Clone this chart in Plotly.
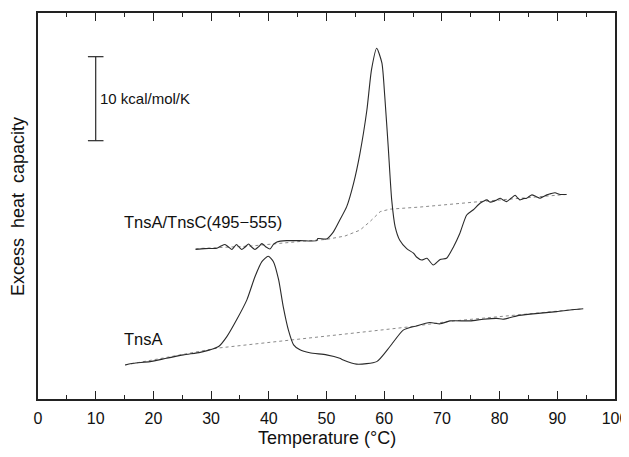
import plotly.graph_objects as go

# TnsA/TnsC(495-555) scan, temperature in deg C, Cp in kcal/mol/K (offset)
complex_temp = [27.3, 28.9, 31.0, 31.7, 32.4, 33.0, 33.6, 34.0, 34.4, 34.9, 35.3, 35.9,
                36.5, 37.0, 37.6, 38.2, 38.8, 39.5, 40.2, 40.8, 41.4, 43.1, 45.4, 48.3,
                48.5, 50.0, 51.2, 52.3, 53.5, 54.7, 55.8, 57.0, 57.8, 58.7, 59.6, 60.1,
                60.7, 61.3, 61.9, 62.7, 63.9, 65.1, 65.6, 66.5, 67.4, 68.5, 69.7, 70.8,
                72.0, 73.1, 74.3, 75.4, 76.6, 77.2, 77.8, 78.3, 78.9, 79.5, 80.1, 80.6,
                81.2, 82.0, 82.7, 83.1, 83.5, 84.1, 84.7, 85.1, 85.6, 86.3, 87.0, 87.6,
                88.2, 88.9, 89.6, 90.5, 91.6]
complex_cp = [17.8, 17.9, 17.95, 18.2, 18.4, 18.1, 17.8, 18.1, 18.4, 18.05, 17.8, 18.1,
              18.45, 18.1, 17.8, 18.1, 18.5, 18.1, 17.85, 18.4, 18.7, 18.85, 18.85, 18.85,
              19.1, 19.05, 19.9, 21.3, 22.9, 25.7, 29.25, 34.4, 39.2, 41.75, 40.0, 36.0,
              30.0, 23.7, 20.5, 18.9, 17.9, 17.35, 16.9, 16.55, 16.75, 15.95, 16.6, 16.75,
              18.1, 19.7, 21.9, 22.5, 23.3, 23.55, 23.7, 23.45, 23.5, 23.7, 23.9, 23.7,
              23.5, 23.9, 24.25, 23.95, 23.7, 23.85, 23.9, 24.1, 24.3, 24.1, 23.9, 24.1,
              24.3, 24.45, 24.55, 24.35, 24.35]
complex_base_temp = [27.3, 36.7, 45.4, 50.0, 53.2, 55.8, 57.5, 59.3, 61.0, 66.2, 76.6, 91.6]
complex_base_cp = [17.9, 18.2, 18.75, 19.0, 19.4, 20.1, 21.1, 22.3, 22.6, 22.85, 23.5, 24.35]

# TnsA alone
tnsa_temp = [15.1, 16.5, 19.4, 22.3, 25.2, 28.1, 29.8, 31.3, 32.7, 34.4, 36.2, 37.6,
             38.8, 39.9, 40.8, 41.7, 42.5, 43.4, 44.3, 45.4, 47.1, 50.0, 52.3, 52.9,
             55.2, 58.7, 61.0, 63.3, 65.6, 67.9, 69.7, 71.4, 74.9, 77.2, 79.5, 80.6,
             83.0, 85.3, 89.9, 92.2, 94.5]
tnsa_cp = [4.05, 4.25, 4.45, 4.85, 5.25, 5.55, 5.85, 6.25, 7.4, 9.4, 11.8, 14.55,
           16.35, 17.0, 16.35, 14.2, 11.0, 8.2, 6.45, 5.85, 5.5, 5.25, 4.85, 4.65,
           4.15, 4.45, 6.25, 8.2, 8.7, 9.1, 8.95, 9.3, 9.3, 9.5, 9.6, 9.5,
           9.9, 10.1, 10.4, 10.6, 10.75]
tnsa_base_temp = [15.1, 29.8, 31.0, 54.1, 64.5, 71.4, 94.5]
tnsa_base_cp = [4.05, 5.85, 6.05, 7.8, 8.6, 9.25, 10.75]

# scale bar: 10 kcal/mol/K at T = 10
bar_temp = 10
bar_lo, bar_hi = 30.75, 40.75

labels = ["TnsA/TnsC(495\u2212555)", "TnsA"]
label_temp = [14.6, 14.6]
label_cp = [21.1, 7.1]

ink = "#2a2a2a"
font = "Liberation Sans, Arial, sans-serif"

fig = go.Figure()
for t, c in [(complex_base_temp, complex_base_cp), (tnsa_base_temp, tnsa_base_cp)]:
    fig.add_trace(go.Scatter(x=t, y=c, mode="lines",
                             line=dict(color="#8a8a8a", width=1, dash="dot")))
for t, c in [(complex_temp, complex_cp), (tnsa_temp, tnsa_cp)]:
    fig.add_trace(go.Scatter(x=t, y=c, mode="lines",
                             line=dict(color=ink, width=1.1, shape="spline", smoothing=0.6)))

# scale bar with caps
fig.add_trace(go.Scatter(x=[bar_temp, bar_temp], y=[bar_lo, bar_hi], mode="lines",
                         line=dict(color=ink, width=1.2)))
for yv in (bar_lo, bar_hi):
    fig.add_trace(go.Scatter(x=[bar_temp - 1.35, bar_temp + 1.35], y=[yv, yv], mode="lines",
                             line=dict(color=ink, width=1.2)))

fig.add_annotation(x=bar_temp + 0.4, y=(bar_lo + bar_hi) / 2, text="10 kcal/mol/K",
                   showarrow=False, xanchor="left", yanchor="middle",
                   font=dict(size=15, color="#111111", family=font))
for txt, xv, yv in zip(labels, label_temp, label_cp):
    fig.add_annotation(x=xv, y=yv, text=txt, showarrow=False, xanchor="left",
                       yanchor="middle", font=dict(size=16.5, color="#111111", family=font))

# axis titles placed by hand so they do not push the margins
fig.add_annotation(xref="paper", yref="paper", x=0.5, y=-0.101, text="Temperature (\u00b0C)",
                   showarrow=False, xanchor="center", yanchor="middle",
                   font=dict(size=18, color="#111111", family=font))
fig.add_annotation(xref="paper", yref="paper", x=-0.0347, y=0.5,
                   text="Excess\u00a0 heat\u00a0 capacity", textangle=-90,
                   showarrow=False, xanchor="center", yanchor="middle",
                   font=dict(size=18, color="#111111", family=font))

# page body adds an 8px offset; keep the figure small enough to avoid scrollbars
fig.update_layout(
    width=621, height=441,
    paper_bgcolor="white", plot_bgcolor="white",
    margin=dict(l=30, r=14, t=5, b=50),
    showlegend=False,
    font=dict(family=font, color="#111111"),
    xaxis=dict(
        range=[0, 100], dtick=10, ticks="inside", ticklen=8, tickwidth=1.2,
        tickcolor="#222222", showline=True, linecolor="#222222", linewidth=1.5,
        mirror="ticks", showgrid=False, zeroline=False, automargin=False,
        tickfont=dict(size=16), ticklabelstandoff=4,
        minor=dict(dtick=5, ticks="inside", ticklen=4, tickwidth=1, tickcolor="#222222"),
    ),
    yaxis=dict(
        range=[0, 45.95], showticklabels=False, ticks="", showline=True,
        linecolor="#222222", linewidth=1.5, mirror=True, showgrid=False, zeroline=False,
        automargin=False,
    ),
)

fig.write_html("out.html")
